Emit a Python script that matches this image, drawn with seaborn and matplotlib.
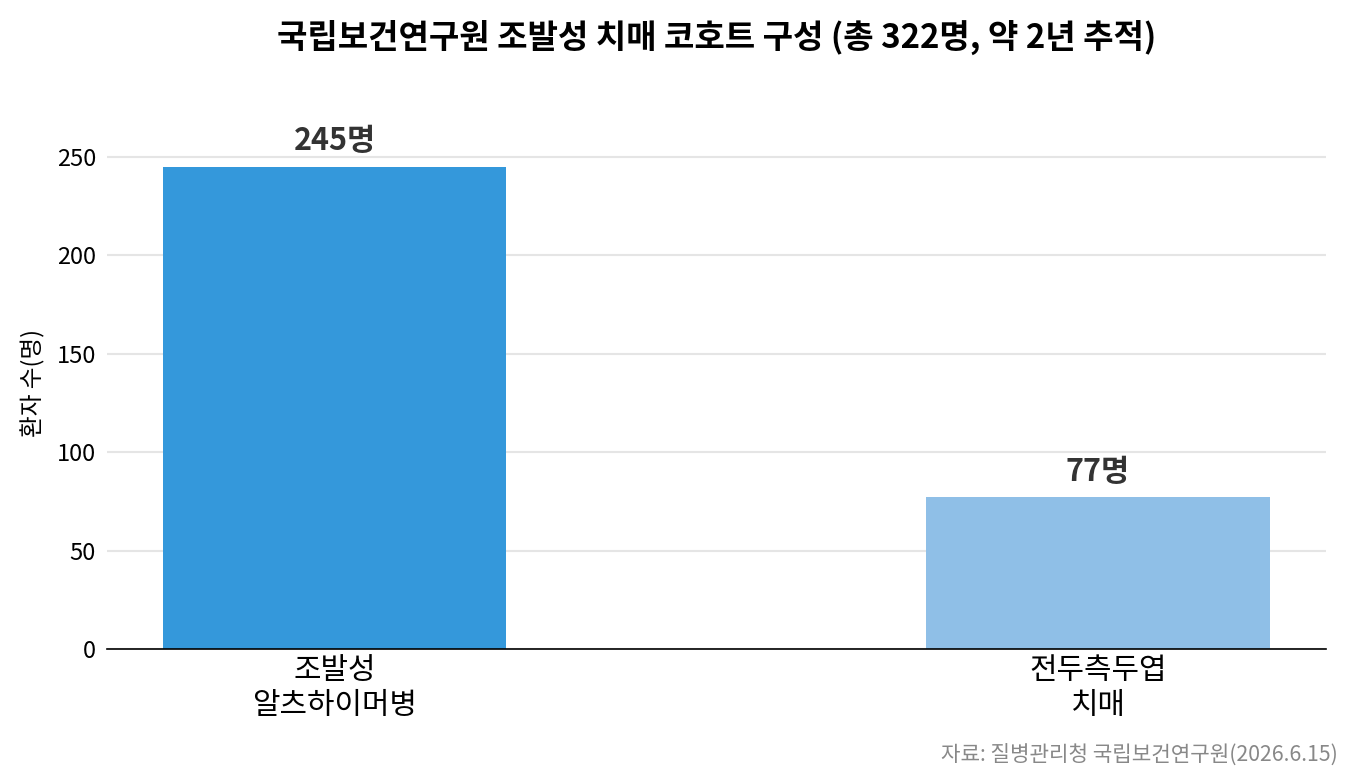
import matplotlib
matplotlib.use("Agg")
import matplotlib.pyplot as plt
import seaborn as sns
import pandas as pd

# data
categories = ["조발성\n알츠하이머병", "전두측두엽\n치매"]
patients = [245, 77]
bar_colors = ["#3498db", "#8fbfe7"]

df = pd.DataFrame({"group": categories, "count": patients})

sns.set_theme(style="whitegrid")
plt.rcParams["font.family"] = ["Noto Sans CJK KR", "DejaVu Sans"]

fig, ax = plt.subplots(figsize=(13.54, 7.82), dpi=100)
sns.barplot(data=df, x="group", y="count", hue="group", palette=bar_colors,
            width=0.45, legend=False, ax=ax, saturation=1, linewidth=0)

for i, v in enumerate(patients):
    ax.text(i, v + 5, f"{v}명", ha="center", va="bottom",
            fontsize=22, fontweight="bold", color="#333333")

ax.set_xlim(-0.298, 1.298)
ax.set_ylim(0, 270)
ax.set_yticks([0, 50, 100, 150, 200, 250])
ax.set_xlabel("")
ax.set_ylabel("환자 수(명)", fontsize=17, labelpad=8, color="black")
ax.tick_params(axis="y", labelsize=17, length=0, pad=8, labelcolor="black")
ax.tick_params(axis="x", labelsize=21.5, length=0, pad=4, labelcolor="black")
ax.grid(axis="y", color="#e5e5e5", linewidth=1.5)
ax.grid(axis="x", visible=False)
ax.set_axisbelow(True)

for s in ["top", "right", "left"]:
    ax.spines[s].set_visible(False)
ax.spines["bottom"].set_color("black")
ax.spines["bottom"].set_linewidth(1.2)

fig.subplots_adjust(left=0.079, right=0.979, top=0.85, bottom=0.17)

# title centred over the plot area
pos = ax.get_position()
fig.suptitle("국립보건연구원 조발성 치매 코호트 구성 (총 322명, 약 2년 추적)",
             fontsize=23.8, fontweight="bold", color="black",
             x=(pos.x0 + pos.x1) / 2, y=0.975)
fig.text(0.988, 0.02, "자료: 질병관리청 국립보건연구원(2026.6.15)",
         ha="right", va="bottom", fontsize=15.3, color="#888888")

fig.savefig("out.png", dpi=100)
